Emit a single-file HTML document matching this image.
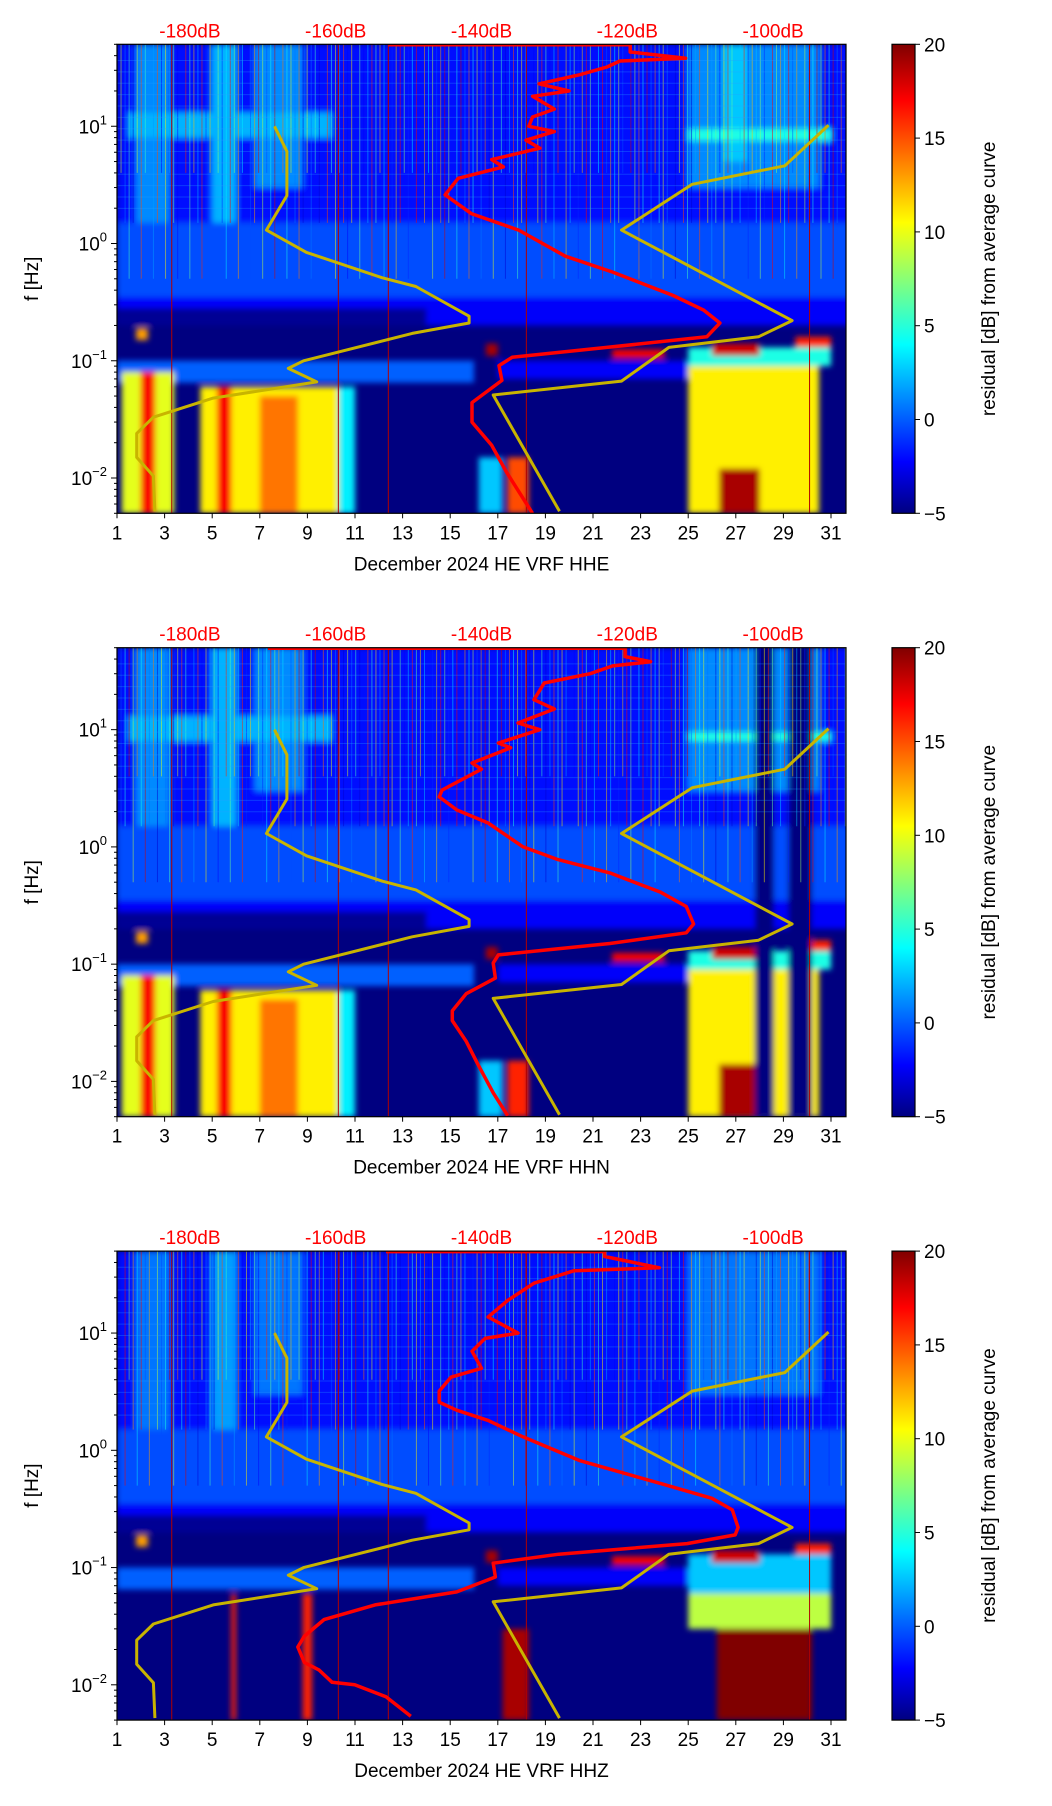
<!DOCTYPE html>
<html><head><meta charset="utf-8">
<style>
html,body{margin:0;padding:0;background:#fff;}
svg{display:block;font-family:"Liberation Sans","DejaVu Sans",sans-serif;}
</style></head>
<body>
<svg id="fig" width="1052" height="1806" viewBox="0 0 1052 1806" xmlns="http://www.w3.org/2000/svg">
<defs>
<linearGradient id="jet" x1="0" y1="1" x2="0" y2="0">
<stop offset="0" stop-color="#000080"/><stop offset="0.11" stop-color="#0000ff"/>
<stop offset="0.36" stop-color="#00ffff"/><stop offset="0.62" stop-color="#ffff00"/>
<stop offset="0.88" stop-color="#ff0000"/><stop offset="1" stop-color="#800000"/>
</linearGradient>
<filter id="blur" x="-5%" y="-5%" width="110%" height="110%"><feGaussianBlur stdDeviation="3"/></filter>
</defs>
</svg>
<script>
// ---- data ----
const channels = ["HHE","HHN","HHZ"];
const dayTicks = [1,3,5,7,9,11,13,15,17,19,21,23,25,27,29,31];
const dbTicks = [-180,-160,-140,-120,-100];
const cbTicks = [-5,0,5,10,15,20];
const markerDays = [3.3,10.3,12.4,18.2,30.1];
// NLNM (freq Hz, dB)
const nlnmF = [10,6.1,2.56,1.3,0.84,0.51,0.43,0.24,0.21,0.171,0.10,0.086,0.066,0.048,0.033,0.024,0.015,0.0104,0.0052];
const nlnmDb = [-168.4,-166.7,-166.7,-169.5,-164.0,-153.6,-149.0,-141.7,-141.7,-149.5,-164.4,-166.5,-162.6,-176.8,-185.0,-187.3,-187.3,-185.0,-184.8];
// NHNM
const nhnmF = [10.2,4.6,3.2,1.3,0.22,0.16,0.13,0.067,0.051,0.0052];
const nhnmDb = [-92.4,-98.4,-111.1,-120.8,-97.4,-102.0,-114.3,-120.8,-138.4,-129.3];
// station curves
const red1F = [49.5,49.5,43,38,36,32,27.5,23,20,18,14,12,10,9,7.6,6.5,5.2,4.5,3.6,2.6,1.8,1.3,0.78,0.57,0.36,0.27,0.21,0.16,0.13,0.107,0.091,0.068,0.044,0.03,0.019,0.0113,0.005];
const red1Db = [-152.8,-119.6,-119.6,-112,-121,-122.8,-126.5,-132.1,-128,-133,-130,-133,-133.5,-130,-133.9,-132,-138.6,-137,-143.2,-145,-141.4,-134.9,-128.5,-122,-113.7,-109.5,-107.3,-109.1,-122.8,-135.8,-137.6,-137.2,-141.3,-141.3,-138.6,-136.6,-133];
const red2F = [49.5,49.5,42,38,35,30,25,18,15,11.4,10,7.7,7,5.2,4.6,3.05,2.67,2.07,1.6,1.0,0.78,0.6,0.41,0.31,0.22,0.185,0.15,0.12,0.102,0.076,0.056,0.04,0.033,0.022,0.0144,0.008,0.0051];
const red2Db = [-169.3,-120.3,-120.3,-116.8,-122,-125.1,-131.4,-132.8,-130,-135,-132,-137.7,-136,-141.3,-140,-145.4,-145.8,-143.4,-139.1,-134.3,-129.5,-122.4,-115.4,-111.9,-110.9,-111.9,-122.4,-137.7,-138.4,-138.1,-142.1,-144,-144,-142.1,-140.6,-138.4,-136.4];
const red3F = [49.5,49.5,45,36,34,26.6,19,13.7,10,9,7,5,4.2,3.2,2.57,2.2,1.8,1.3,0.82,0.52,0.39,0.31,0.22,0.19,0.16,0.13,0.109,0.083,0.062,0.048,0.036,0.026,0.021,0.0155,0.0134,0.0105,0.01,0.0079,0.0054];
const red3Db = [-153.1,-123.1,-123.1,-115.6,-127.3,-132.8,-136.4,-139.1,-135,-139.5,-141.3,-140,-144.2,-145.8,-145.8,-143.4,-139.1,-134.3,-126.6,-115.4,-108.4,-105.6,-104.8,-105.2,-111.8,-129.4,-138.4,-138.1,-143.4,-154.6,-161.6,-164.3,-165.2,-164.3,-162.3,-160.5,-157.4,-153.1,-149.7];
const redF = [red1F, red2F, red3F];
const redDb = [red1Db, red2Db, red3Db];
// spectrogram blocks [day0, day1, f0, f1, residual dB]
const common = [
 [1,32,1.5,50,-1.5],[1,32,0.35,1.5,0],[1,32,0.2,0.35,-2],[1,14,0.2,0.28,-4.5],
 [1,16,0.065,0.1,0.5],[17,25,0.07,0.1,-2]
];
const spec1 = [
 [1.8,3.2,1.5,50,1.5],[5,6,1.5,50,2.5],[6.8,8.8,3,50,1.5],[25,30.5,3,50,1.5],[26.5,27.5,5,50,3],
 [1.5,10,8,13,2.5],[25,31,7.5,9.5,5],
 [1.2,3.4,0.005,0.08,10],[2,2.6,0.005,0.08,17],[4.5,10.3,0.005,0.06,11],[5.2,5.8,0.005,0.06,17],[7,8.6,0.005,0.05,14],[10.3,11,0.005,0.06,4],
 [16.2,17.2,0.005,0.015,3],[17.4,18.3,0.005,0.015,15],
 [25,30.5,0.005,0.09,11],[26.3,28,0.005,0.012,19],[25,31,0.09,0.13,5],
 [16.5,17,0.11,0.14,19],[21.8,24,0.105,0.125,17],[26,28,0.11,0.14,18],[29.5,31,0.13,0.16,16],[1.8,2.3,0.15,0.19,13]
];
const spec2 = [
 [1.8,3.2,1.5,50,1.5],[5,6,1.5,50,2.5],[6.8,8.8,3,50,1.5],[25,30.5,3,50,1.5],
 [1.5,10,8,13,2.5],[25,31,8,9.5,5],
 [1.2,3.4,0.005,0.08,10],[2,2.6,0.005,0.08,17],[4.5,10.3,0.005,0.06,11],[5.2,5.8,0.005,0.06,17],[7,8.6,0.005,0.05,14],[10.3,11,0.005,0.06,4],
 [16.2,17.2,0.005,0.015,3],[17.4,18.3,0.005,0.015,16],
 [25,30.5,0.005,0.09,11],[26.3,28,0.005,0.014,19],[25,31,0.09,0.13,5],
 [16.5,17,0.11,0.14,19],[21.8,24,0.105,0.125,17],[26,28,0.11,0.14,18],[29.8,31,0.13,0.16,16],[1.8,2.3,0.15,0.19,13],
 [27.8,28.6,0.005,50,-5],[29.2,30.2,0.005,50,-5]
];
const spec3 = [
 [1.8,3.2,1.5,50,1],[5,6,1.5,50,2],[6.8,8.8,3,50,1],[25,30.5,3,50,1],
 [25,31,0.06,0.13,3],[25,31,0.03,0.06,9],[26.2,30.2,0.005,0.03,20],[17.2,18.3,0.005,0.03,19],[5.8,6,0.005,0.06,16],[8.8,9.2,0.005,0.06,16],
 [16.5,17,0.11,0.14,19],[21.8,24,0.105,0.125,17],[26,28,0.11,0.14,18],[29.5,31,0.13,0.16,16],[1.8,2.3,0.15,0.19,13]
];
const specs = [spec1, spec2, spec3];

// ---- layout ----
const L=117, W=729, H=469, tops=[44.3,647.7,1251.1];
const D0=1, D1=31.63, DB0=-190, DB1=-90, LF0=Math.log10(0.005), LF1=Math.log10(50);
const CBX=892, CBW=23;
const xDay=d=>L+(d-D0)/(D1-D0)*W;
const xDb=v=>L+(v-DB0)/(DB1-DB0)*W;
const yF=(f,t)=>t+(LF1-Math.log10(f))/(LF1-LF0)*H;
const svg=document.getElementById('fig');
const NS="http://www.w3.org/2000/svg";
function mk(tag,attrs,parent){const e=document.createElementNS(NS,tag);for(const k in attrs)e.setAttribute(k,attrs[k]);(parent||svg).appendChild(e);return e;}
function jet(v){let t=Math.max(0,Math.min(1,(v+5)/25));
 const c=(x)=>Math.max(0,Math.min(1,x));
 const r=c(Math.min(4*t-1.5,-4*t+4.5)),g=c(Math.min(4*t-0.5,-4*t+3.5)),b=c(Math.min(4*t+0.5,-4*t+2.5));
 return `rgb(${Math.round(r*255)},${Math.round(g*255)},${Math.round(b*255)})`;}

tops.forEach((top,p)=>{
 const clipId='clip'+p;
 const cp=mk('clipPath',{id:clipId});
 mk('rect',{x:L,y:top,width:W,height:H},cp);
 const spg=mk('g',{'clip-path':`url(#${clipId})`});
 
 
 mk('rect',{x:L,y:top,width:W,height:H,fill:'#000080'},spg);
 const bl=mk('g',{filter:'url(#blur)'},spg);
 common.concat(specs[p]).forEach(b=>{
  const r=mk('rect',{x:xDay(b[0]),y:yF(b[3],top),width:xDay(b[1])-xDay(b[0]),height:yF(b[2],top)-yF(b[3],top),fill:jet(b[4])},bl);
  
  
 });
 // texture streaks
 const tx=mk('g',{},spg);
 for(let i=0;i<160;i++){
  const d=1+((i*7.31+p*1.7)%30.6);
  const v=((i*13)%22)-3;
  const fBot=(i%3===0)?0.5:(i%2===0?1.5:4);
  mk('line',{x1:xDay(d),x2:xDay(d),y1:yF(50,top),y2:yF(fBot,top),stroke:jet(v),'stroke-width':1,opacity:0.5},tx);
 }
 for(let i=0;i<14;i++){
  const f=Math.pow(10,0.3+(i*0.097)%1.35);
  mk('line',{x1:L,x2:L+W,y1:yF(f,top),y2:yF(f,top),stroke:'#2aa0ff','stroke-width':1,opacity:0.3},tx);
 }
 // marker lines
 markerDays.forEach(d=>{
  const ln=mk('line',{x1:xDay(d),x2:xDay(d),y1:top,y2:top+H,stroke:'#b00000','stroke-width':1},spg);
  
  
 });
 // noise model curves
 const path=(F,Db)=>F.map((f,i)=>(i?'L':'M')+xDb(Db[i]).toFixed(1)+','+yF(f,top).toFixed(1)).join('');
 const n1=mk('path',{d:path(nlnmF,nlnmDb),fill:'none',stroke:'#c8b400','stroke-width':3,'stroke-linejoin':'round'},spg);
 
 
 const n2=mk('path',{d:path(nhnmF,nhnmDb),fill:'none',stroke:'#c8b400','stroke-width':3,'stroke-linejoin':'round'},spg);
 
 
 const rc=mk('path',{d:path(redF[p],redDb[p]),fill:'none',stroke:'#ff0000','stroke-width':3.5,'stroke-linejoin':'round'},spg);
 
 
 // frame
 const fr=mk('rect',{x:L,y:top,width:W,height:H,fill:'none',stroke:'#000','stroke-width':1.2});
 
 
 // x ticks
 dayTicks.forEach(d=>{
  const x=xDay(d);
  mk('line',{x1:x,x2:x,y1:top+H,y2:top+H+5,stroke:'#000','stroke-width':1});
  const t=mk('text',{x:x,y:top+H+26,'font-size':19,'text-anchor':'middle',fill:'#000'});
  t.textContent=d;
  
  
 });
 const xt=mk('text',{x:L+W/2,y:top+H+57,'font-size':19,'text-anchor':'middle',fill:'#000'});
 xt.textContent='December 2024 HE VRF  '+channels[p];
 
 
 // top dB labels
 dbTicks.forEach(v=>{
  const t=mk('text',{x:xDb(v),y:top-7,'font-size':19,'text-anchor':'middle',fill:'#ff0000'});
  t.textContent=v+'dB';
  
  
 });
 // y ticks
 for(let e=-3;e<=1;e++){
  for(let m=1;m<10;m++){
   const f=m*Math.pow(10,e);
   if(f<0.005||f>50)continue;
   const y=yF(f,top);
   mk('line',{x1:L-(m===1?6:3),x2:L,y1:y,y2:y,stroke:'#000','stroke-width':1});
  }
 }
 [-2,-1,0,1].forEach(e=>{
  const y=yF(Math.pow(10,e),top);
  const t=mk('text',{x:L-10,y:y+7,'font-size':19,'text-anchor':'end',fill:'#000'});
  
  
  const a=mk('tspan',{},t);a.textContent='10';
  const b=mk('tspan',{dy:-9,'font-size':13},t);b.textContent=(e<0?'\u2212':'')+Math.abs(e);
 });
 const yt=mk('text',{x:38,y:top+H/2,'font-size':19,'text-anchor':'middle',fill:'#000',transform:`rotate(-90 38 ${top+H/2})`});
 yt.textContent='f [Hz]';
 
 
 // colorbar
 const cb=mk('rect',{x:CBX,y:top,width:CBW,height:H,fill:'url(#jet)',stroke:'#000','stroke-width':1.2});
 
 
 cbTicks.forEach(v=>{
  const y=top+H-(v+5)/25*H;
  mk('line',{x1:CBX+CBW,x2:CBX+CBW+5,y1:y,y2:y,stroke:'#000','stroke-width':1});
  const t=mk('text',{x:CBX+CBW+9,y:y+7,'font-size':19,fill:'#000'});
  t.textContent=(v<0?'\u2212':'')+Math.abs(v);
  
  
 });
 const ct=mk('text',{x:995,y:top+H/2,'font-size':19,'text-anchor':'middle',fill:'#000',transform:`rotate(-90 995 ${top+H/2})`});
 ct.textContent='residual [dB] from average curve';
 
 
});
</script>
</body></html>
